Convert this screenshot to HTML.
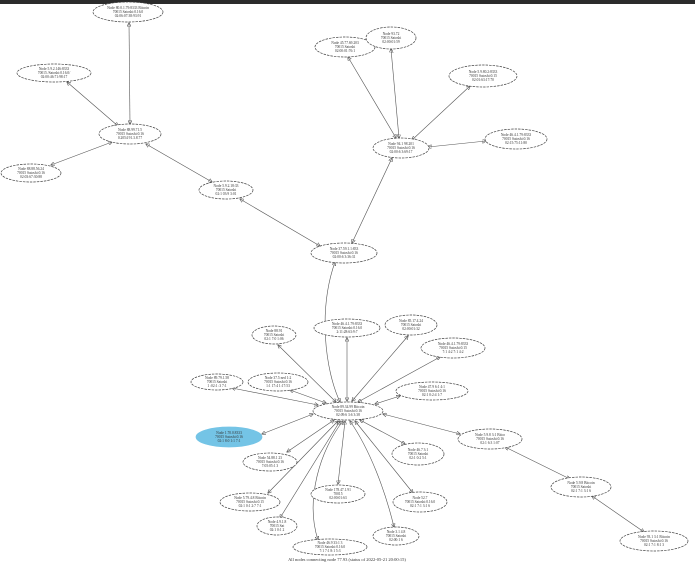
<!DOCTYPE html>
<html><head><meta charset="utf-8"><style>
html,body{margin:0;padding:0;background:#fff;width:695px;height:564px;overflow:hidden}
svg{display:block}
text{font-family:"Liberation Serif",serif;font-size:3.6px;fill:#333;text-anchor:middle}
ellipse{fill:#fff;stroke:#444;stroke-width:0.7;stroke-dasharray:2.5 1}
line,path{stroke:#555;stroke-width:0.6;fill:none}
</style></head><body>
<svg width="695" height="564" viewBox="0 0 695 564" xmlns="http://www.w3.org/2000/svg">
<defs><marker id="a" markerWidth="4" markerHeight="4" refX="3.5" refY="2" orient="auto-start-reverse" markerUnits="userSpaceOnUse"><path d="M0,0 L4,2 L0,4z" fill="#222" stroke="none"/></marker></defs>
<rect x="0" y="0" width="695" height="4" fill="#2b2b2b"/>
<g marker-end="url(#a)" marker-start="url(#a)">
<line x1="129" y1="23" x2="130" y2="124"/>
<line x1="67" y1="82" x2="118" y2="126"/>
<line x1="51" y1="165" x2="112" y2="142"/>
<line x1="146" y1="144" x2="212" y2="182"/>
<line x1="240" y1="199" x2="320" y2="246"/>
<line x1="352" y1="243" x2="392" y2="158"/>
<line x1="348" y1="57" x2="396" y2="138"/>
<line x1="391" y1="49" x2="399" y2="138"/>
<line x1="470" y1="86" x2="412" y2="140"/>
<line x1="486" y1="141" x2="428" y2="147"/>
<path d="M335,262 C318,310 325,370 340,402"/>
<line x1="278" y1="345" x2="336" y2="402"/>
<line x1="347" y1="338" x2="347" y2="401"/>
<line x1="408" y1="336" x2="352" y2="401"/>
<line x1="440" y1="357" x2="358" y2="402"/>
<line x1="232" y1="388" x2="318" y2="405"/>
<line x1="290" y1="390" x2="326" y2="403"/>
<line x1="400" y1="396" x2="375" y2="404"/>
<line x1="262" y1="434" x2="313" y2="414"/>
<line x1="460" y1="434" x2="383" y2="414"/>
<line x1="405" y1="444" x2="360" y2="420"/>
<line x1="287" y1="452" x2="334" y2="420"/>
<line x1="338" y1="484" x2="345" y2="421"/>
<line x1="268" y1="493" x2="338" y2="421"/>
<line x1="413" y1="493" x2="355" y2="421"/>
<line x1="280" y1="518" x2="340" y2="421"/>
<path d="M318,540 C305,500 320,450 343,421"/>
<path d="M394,527 C385,490 370,450 350,421"/>
<line x1="505" y1="447" x2="570" y2="479"/>
<line x1="592" y1="496" x2="644" y2="532"/>
</g>
<g>
<ellipse cx="128" cy="12" rx="35" ry="10"/><text x="128" y="9">Node 80.0.1.79:8333 Bitcoin</text><text x="128" y="13">70015 Satoshi:0.16.0</text><text x="128" y="17">02:06:07:38:93:91</text>
<ellipse cx="54" cy="73" rx="37" ry="9"/><text x="54" y="70">Node 5.9.2.146:8333</text><text x="54" y="74">70015 /Satoshi:0.16.0/</text><text x="54" y="78">02:00:46:71:98:17</text>
<ellipse cx="130" cy="134" rx="31" ry="10"/><text x="130" y="131">Node 88.99.71.5</text><text x="130" y="135">70015 Satoshi:0.16</text><text x="130" y="139">0.2054 91.3.8.77</text>
<ellipse cx="31" cy="173" rx="30" ry="9"/><text x="31" y="170">Node 88.88.56.24</text><text x="31" y="174">70015 Satoshi:0.16</text><text x="31" y="178">02:03:67:30:88</text>
<ellipse cx="226" cy="190" rx="27" ry="9"/><text x="226" y="187">Node 5.9.2.18:33</text><text x="226" y="191">70015 Satoshi</text><text x="226" y="195">02:1 03:9 3:01</text>
<ellipse cx="344" cy="253" rx="33" ry="10"/><text x="344" y="250">Node 37.59.1.1:833</text><text x="344" y="254">70015 Satoshi:0.16</text><text x="344" y="258">02:00:6 3:36:31</text>
<ellipse cx="401" cy="148" rx="28" ry="10"/><text x="401" y="145">Node 94.1 98.201</text><text x="401" y="149">70015 Satoshi:0.16</text><text x="401" y="153">02:00:6 3:69:17</text>
<ellipse cx="345" cy="47" rx="30" ry="10"/><text x="345" y="44">Node 45.77.69.203</text><text x="345" y="48">70015 Satoshi</text><text x="345" y="52">02:00:01:76:1</text>
<ellipse cx="391" cy="38" rx="25" ry="11"/><text x="391" y="35">Node 93.72</text><text x="391" y="39">70015 Satoshi</text><text x="391" y="43">02:00:01:59</text>
<ellipse cx="483" cy="76" rx="34" ry="11"/><text x="483" y="73">Node 5.9.80.2:8333</text><text x="483" y="77">70015 Satoshi:0.15</text><text x="483" y="81">02:01:63:17:70</text>
<ellipse cx="516" cy="139" rx="31" ry="10"/><text x="516" y="136">Node 46.4.1.79:8333</text><text x="516" y="140">70015 Satoshi:0.16</text><text x="516" y="144">02:15:75:11:80</text>
<ellipse cx="348" cy="411" rx="35" ry="9"/><text x="348" y="408">Node 89.34.99 Bitcoin</text><text x="348" y="412">70015 Satoshi:0.16</text><text x="348" y="416">02:09:6 3:6 3:38</text>
<ellipse cx="274" cy="335" rx="22" ry="9"/><text x="274" y="332">Node 88.91</text><text x="274" y="336">70015 Satoshi</text><text x="274" y="340">02:1 7:0 1:06</text>
<ellipse cx="347" cy="328" rx="33" ry="9"/><text x="347" y="325">Node 46.4.1.79:8333</text><text x="347" y="329">70015 Satoshi:0.16.0</text><text x="347" y="333">2:11:28:63:9:7</text>
<ellipse cx="411" cy="325" rx="26" ry="10"/><text x="411" y="322">Node 85.17.4.24</text><text x="411" y="326">70015 Satoshi</text><text x="411" y="330">02:00:01:32</text>
<ellipse cx="453" cy="348" rx="32" ry="10"/><text x="453" y="345">Node 46.4.1.79:8333</text><text x="453" y="349">70015 Satoshi:0.15</text><text x="453" y="353">7:1 4:2 7:1 4:2</text>
<ellipse cx="217" cy="382" rx="26" ry="8"/><text x="217" y="379">Node 89.79.1.58</text><text x="217" y="383">70015 Satoshi</text><text x="217" y="387">1 :02:1 :3 7:1</text>
<ellipse cx="278" cy="382" rx="30" ry="9"/><text x="278" y="379">Node 37.5 ned 1:2</text><text x="278" y="383">70015 Satoshi:0.16</text><text x="278" y="387">1:1 17:4 1:17:53</text>
<ellipse cx="432" cy="391" rx="36" ry="9"/><text x="432" y="388">Node 47.9 6:1 4:1</text><text x="432" y="392">70015 Satoshi:0.16</text><text x="432" y="396">02:1 0:2:4 1:7</text>
<ellipse cx="229" cy="437" rx="33" ry="10" style="fill:#74c4e6;stroke:#74c4e6;stroke-dasharray:none"/><text x="229" y="434">Node 1.70.0.8333</text><text x="229" y="438">70015 Satoshi:0.16</text><text x="229" y="442">02:1 8:0 1:1 7:1</text>
<ellipse cx="490" cy="439" rx="32" ry="10"/><text x="490" y="436">Node 5.9.8 3:1 Bitco</text><text x="490" y="440">70015 Satoshi:0.16</text><text x="490" y="444">02:1 6:3 1:07</text>
<ellipse cx="418" cy="454" rx="26" ry="11"/><text x="418" y="451">Node 46.7 3:1</text><text x="418" y="455">70015 Satoshi</text><text x="418" y="459">02:1 0:2 5:1</text>
<ellipse cx="270" cy="462" rx="27" ry="9"/><text x="270" y="459">Node 54.88.1 23</text><text x="270" y="463">70015 Satoshi:0.16</text><text x="270" y="467">7:05:05:1 3</text>
<ellipse cx="338" cy="494" rx="27" ry="9"/><text x="338" y="491">Node 178.47.1.91</text><text x="338" y="495">70015</text><text x="338" y="499">02:00:01:63</text>
<ellipse cx="250" cy="502" rx="30" ry="9"/><text x="250" y="499">Node 5.79.4.8 Bitcoin</text><text x="250" y="503">70015 Satoshi:0.15</text><text x="250" y="507">02:1 0:1 2:7 7:1</text>
<ellipse cx="420" cy="502" rx="27" ry="10"/><text x="420" y="499">Node 52.7</text><text x="420" y="503">70015 Satoshi:0.16.0</text><text x="420" y="507">02:1 7:1 3:1 6</text>
<ellipse cx="277" cy="526" rx="20" ry="9"/><text x="277" y="523">Node 4.9.1.8</text><text x="277" y="527">70015 Sat</text><text x="277" y="531">02:1 0:1 2</text>
<ellipse cx="330" cy="547" rx="37" ry="8"/><text x="330" y="544">Node 46.9 33:1 3</text><text x="330" y="548">70015 Satoshi:0.16.0</text><text x="330" y="552">7:1 7:1 8:1 5:3</text>
<ellipse cx="396" cy="536" rx="23" ry="9"/><text x="396" y="533">Node 3.1 4.8</text><text x="396" y="537">70015 Satoshi</text><text x="396" y="541">02:00:1 6</text>
<ellipse cx="581" cy="487" rx="30" ry="10"/><text x="581" y="484">Node 5.9.8 Bitcoin</text><text x="581" y="488">70015 Satoshi</text><text x="581" y="492">02:1 7:1 3:1 6</text>
<ellipse cx="654" cy="541" rx="34" ry="10"/><text x="654" y="538">Node 93.1 3:1 Bitcoin</text><text x="654" y="542">70015 Satoshi:0.16</text><text x="654" y="546">02:1 7:1 8:1 3</text>
</g>
<text x="347" y="561" style="font-size:4.5px">All nodes connecting node 77.93 (status of 2022-05-21 20:00:15)</text>
</svg>
</body></html>
